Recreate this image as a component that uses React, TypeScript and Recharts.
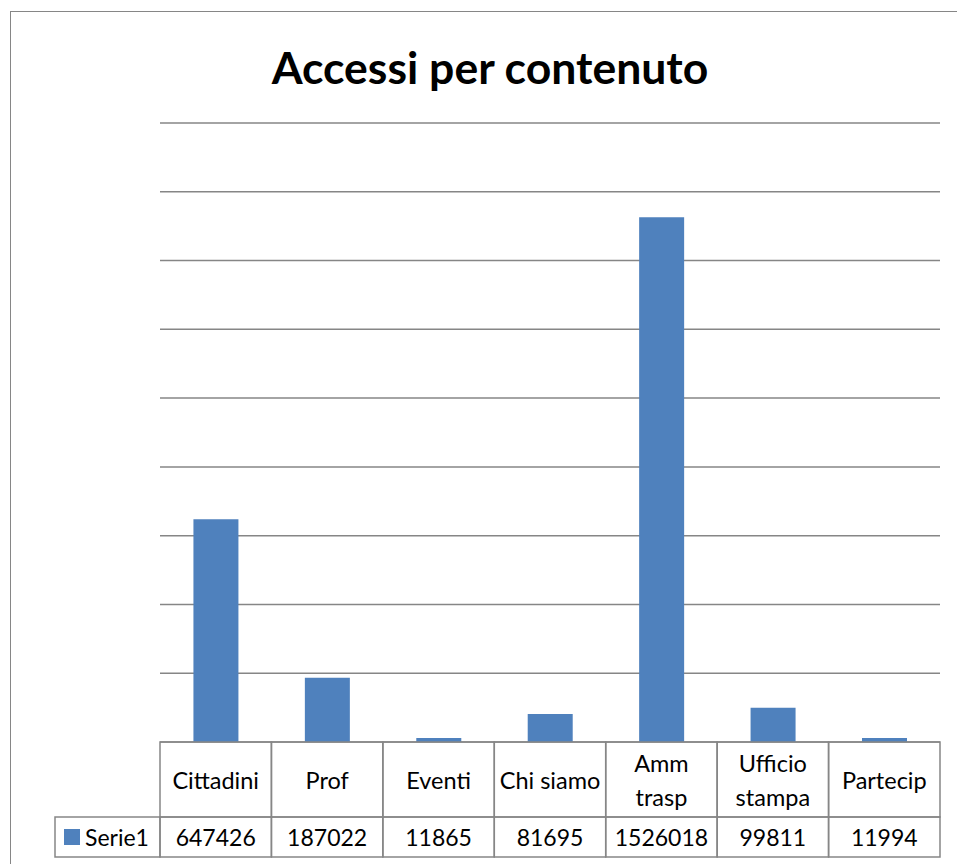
import React from "react";
import { BarChart, Bar, XAxis, YAxis, CartesianGrid } from "recharts";

const categories = ["Cittadini", "Prof", "Eventi", "Chi siamo", "Amm trasp", "Ufficio stampa", "Partecip"];
const labelLines = [["Cittadini"], ["Prof"], ["Eventi"], ["Chi siamo"], ["Amm", "trasp"], ["Ufficio", "stampa"], ["Partecip"]];
const serie1 = [647426, 187022, 11865, 81695, 1526018, 99811, 11994];
const yTicks = [0, 200000, 400000, 600000, 800000, 1000000, 1200000, 1400000, 1600000, 1800000];

const data = categories.map((name, i) => ({ name, serie1: serie1[i] }));

const W = 957;
const H = 864;
const margin = { top: 123, right: 17, left: 160, bottom: 0 };
const FONT = "Lato, 'Open Sans', sans-serif";
const BORDER = "#868686";
const BLUE = "#4F81BD";

function TableTick(props: any) {
  const { x, y, index } = props;
  const band = (W - margin.left - margin.right) / categories.length;
  const left = x - band / 2;
  const top = y;
  const headH = 75;
  const rowH = 40;
  const lines = labelLines[index];
  return (
    <g>
      <rect x={left} y={top} width={band} height={headH} fill="none" stroke={BORDER} strokeWidth={1.5} />
      <rect x={left} y={top + headH} width={band} height={rowH} fill="none" stroke={BORDER} strokeWidth={1.5} />
      {lines.map((l: string, j: number) => (
        <text
          key={j}
          x={x}
          y={top + headH / 2 + (j - (lines.length - 1) / 2) * 34}
          textAnchor="middle"
          dominantBaseline="central"
          fontFamily={FONT}
          fontSize={23.5}
          fill="#000"
        >
          {l}
        </text>
      ))}
      <text
        x={x}
        y={top + headH + rowH / 2}
        textAnchor="middle"
        dominantBaseline="central"
        fontFamily={FONT}
        fontSize={23}
        fill="#000"
      >
        {serie1[index]}
      </text>
      {index === 0 && (
        <g>
          <rect x={55} y={top + headH} width={left - 55} height={rowH} fill="none" stroke={BORDER} strokeWidth={1.5} />
          <rect x={64} y={top + headH + 12} width={16} height={16} fill={BLUE} />
          <text
            x={85}
            y={top + headH + rowH / 2}
            dominantBaseline="central"
            fontFamily={FONT}
            fontSize={23}
            fill="#000"
          >
            Serie1
          </text>
        </g>
      )}
    </g>
  );
}

export default function App() {
  return (
    <div style={{ position: "absolute", left: 0, top: 0, width: W, height: H, overflow: "hidden", background: "#fff" }}>
      <div
        style={{
          position: "absolute",
          left: 10,
          top: 11,
          width: 1000,
          height: 1000,
          border: `1.5px solid ${BORDER}`,
        }}
      />
      <div
        style={{
          position: "absolute",
          left: 0,
          top: 40,
          width: 980,
          textAlign: "center",
          fontFamily: FONT,
          fontWeight: 700,
          fontSize: 44.5,
          color: "#000",
        }}
      >
        Accessi per contenuto
      </div>
      <div style={{ position: "absolute", left: 0, top: 0 }}>
        <BarChart width={W} height={H} data={data} margin={margin} barCategoryGap="30%">
          <CartesianGrid vertical={false} stroke={BORDER} strokeWidth={1.5} />
          <YAxis hide domain={[0, 1800000]} ticks={yTicks} />
          <XAxis
            dataKey="name"
            axisLine={false}
            tickLine={false}
            tickSize={0}
            tickMargin={0}
            height={122}
            interval={0}
            tick={<TableTick />}
          />
          <Bar dataKey="serie1" fill={BLUE} isAnimationActive={false} />
        </BarChart>
      </div>
    </div>
  );
}
